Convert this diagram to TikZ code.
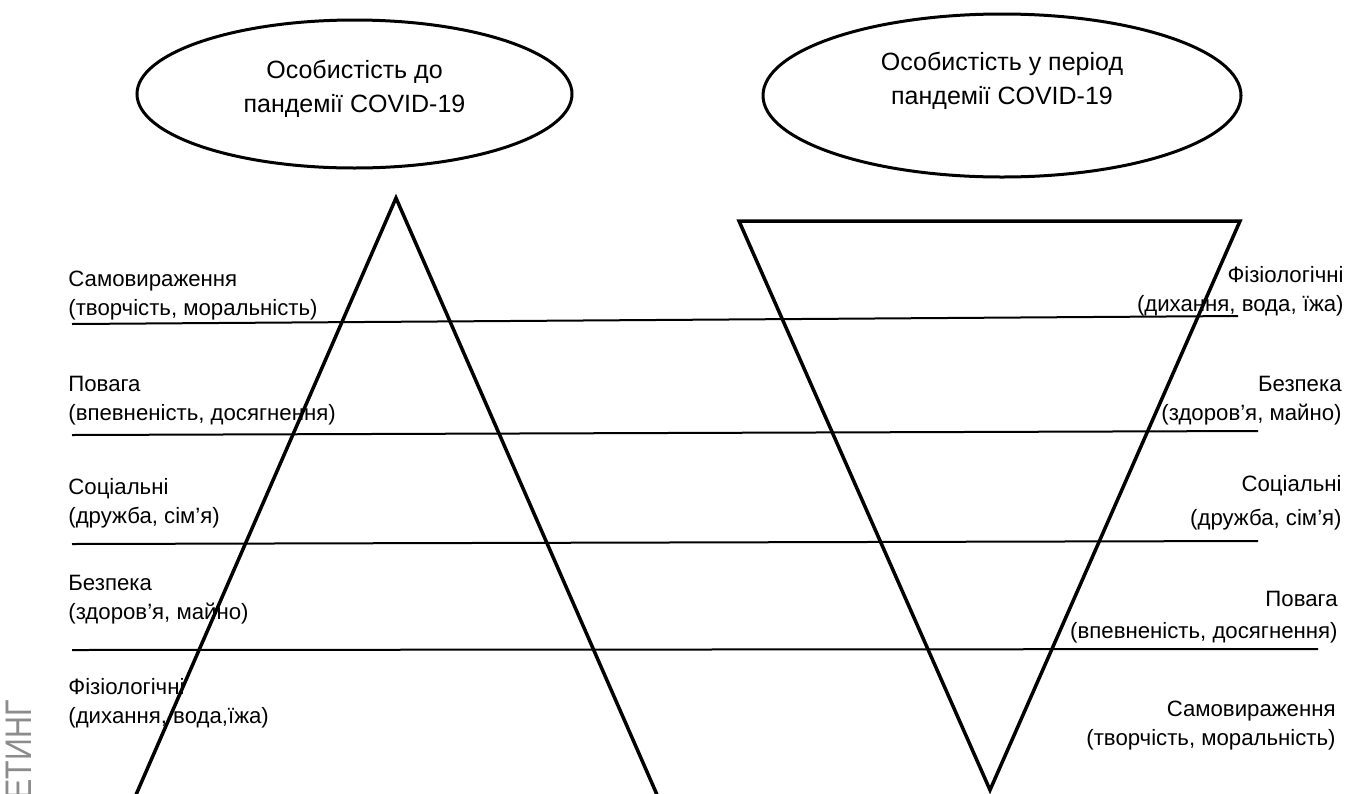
\documentclass[tikz,border=0pt]{standalone}
\usepackage{fontspec}
\setmainfont{Liberation Sans}
\usetikzlibrary{shapes.geometric}
\begin{document}
\begin{tikzpicture}[x=0.5pt,y=-0.5pt,
    every node/.style={font=\fontsize{11.1}{14.5}\selectfont,inner sep=0pt},
    oval/.style={draw,ellipse,line width=1.5pt},
    ovaltext/.style={align=center,font=\fontsize{12.5}{17}\selectfont},
    tri/.style={line width=1.75pt,line join=miter},
    level/.style={line width=1pt},
    lefttext/.style={align=left,anchor=base west},
    righttext/.style={align=right,anchor=base east}]
  \useasboundingbox (0,0) rectangle (1358,793);
  % watermark at the left edge
  \node[rotate=90,anchor=base east,text=black!45,font=\fontsize{18.5}{18.5}\selectfont] (mark) at (32,700) {\scalebox{0.82}[1]{ЕТИНГ}};
  % the two ellipses
  \node[oval,minimum width=217.5pt,minimum height=74pt] (before) at (354.5,94) {};
  \node[ovaltext,yshift=2.75pt] (beforetext) at (before.center) {Особистість до\\пандемії COVID-19};
  \node[oval,minimum width=239pt,minimum height=81.5pt] (during) at (1002,95.5) {};
  \node[ovaltext,yshift=7.25pt] (duringtext) at (during.center) {Особистість у період\\пандемії COVID-19};
  % pyramid and inverted pyramid
  \draw[tri] (396,198) -- (135,797) -- (658,797) -- cycle;
  \draw[tri] (739,221) -- (1240,221) -- (990,790) -- cycle;
  % level lines
  \coordinate (a1) at (72,324);  \coordinate (b1) at (1238,316);
  \coordinate (a2) at (72,435);  \coordinate (b2) at (1258,431);
  \coordinate (a3) at (72,544);  \coordinate (b3) at (1258,541);
  \coordinate (a4) at (72,650);  \coordinate (b4) at (1318,649);
  \foreach \i in {1,...,4}
    \draw[level] (a\i) -- (b\i);
  % needs before the pandemic
  \node[lefttext] (l1) at (68,315) {Самовираження\\(творчість, моральність)};
  \node[lefttext] (l2) at (68,420) {Повага\\(впевненість, досягнення)};
  \node[lefttext] (l3) at (68,523) {Соціальні\\(дружба, сім’я)};
  \node[lefttext] (l4) at (68,619) {Безпека\\(здоров’я, майно)};
  \node[lefttext] (l5) at (68,723) {Фізіологічні\\(дихання, вода,їжа)};
  % needs during the pandemic
  \node[righttext] (r1) at (1344,311) {Фізіологічні\\(дихання, вода, їжа)};
  \node[righttext] (r2) at (1342,420) {Безпека\\(здоров’я, майно)};
  \node[righttext] (r3) at (1342,525) {Соціальні\\[2.5pt](дружба, сім’я)};
  \node[righttext] (r4) at (1338,638) {Повага\\[1.5pt](впевненість, досягнення)};
  \node[righttext] (r5) at (1336,745) {Самовираження\\(творчість, моральність)};
\end{tikzpicture}
\end{document}
